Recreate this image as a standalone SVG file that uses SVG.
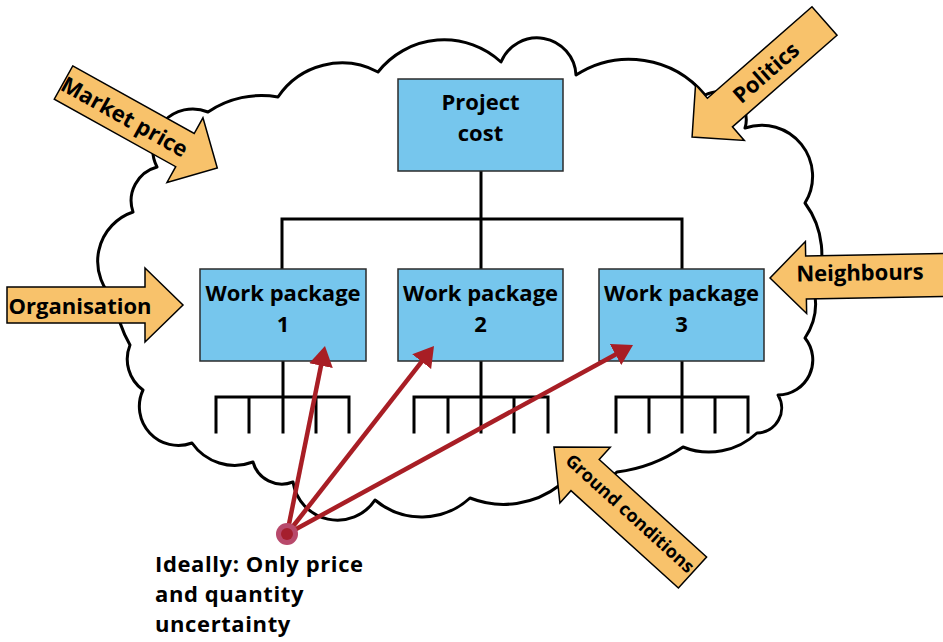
<svg xmlns="http://www.w3.org/2000/svg" width="943" height="642" viewBox="0 0 943 642">
  <style>
    .cloud { fill: #ffffff; stroke: #000000; stroke-width: 3; stroke-linejoin: round; }
    .box { fill: #76C6ED; stroke: #2b2b2b; stroke-width: 1.5; }
    .tree { fill: none; stroke: #000000; stroke-width: 3; stroke-linecap: square; }
    .label { font-family: "Open Sans", "Noto Sans", "Liberation Sans", sans-serif; font-weight: 700; font-size: 22px; fill: #000000; }
    .note { letter-spacing: 0.6px; }
    .mid { text-anchor: middle; }
    .push { fill: #F8C26B; stroke: #000000; stroke-width: 1.5; stroke-linejoin: miter; }
    .link { fill: none; stroke: #A81E25; stroke-width: 4.5; }
  </style>
  <defs>
    <marker id="redHead" markerUnits="userSpaceOnUse" markerWidth="22" markerHeight="24" refX="8" refY="12" orient="auto">
      <path d="M0,0 L20,12 L0,24 Z" fill="#A81E25"/>
    </marker>
  </defs>

  <rect width="943" height="642" fill="#ffffff"/>

  <!-- boundary cloud -->
  <path id="cloud" class="cloud" d="M157,167 A40,40 0 0 1 208,112 A95,95 0 0 1 278,97 A77,77 0 0 1 378,72 A84,84 0 0 1 501,62 A39,39 0 0 1 576,75 A98,98 0 0 1 705,95 A28,28 0 0 1 745,128 A51,51 0 0 1 805,203 A86,86 0 0 1 814,290 A62,62 0 0 1 805,338 A35,35 0 0 1 778,395 A25,25 0 0 1 757,433 A70,70 0 0 1 683,447 A150,150 0 0 1 617,472 A57,57 0 0 1 560,485 A92,92 0 0 1 470,498 A72,72 0 0 1 375,500 A45,45 0 0 1 293,482 A30,30 0 0 1 253,462 A52,52 0 0 1 192,443 A39,39 0 0 1 143,390 A38,38 0 0 1 130,345 A120,120 0 0 1 115,300 A52,52 0 0 1 133,212 A35,35 0 0 1 157,167 Z"/>

  <!-- breakdown tree lines -->
  <g id="tree-connectors" class="tree">
    <path d="M481,171 V269 M282,219 H682 M282,219 V269 M682,219 V269"/>
    <path d="M283,361 V397 M216,397 H349 M216,397 V432 M249,397 V432 M283,397 V432 M316,397 V432 M349,397 V432"/>
    <path d="M481,361 V397 M414,397 H548 M414,397 V432 M448,397 V432 M481,397 V432 M514,397 V432 M548,397 V432"/>
    <path d="M682,361 V397 M616,397 H748 M616,397 V432 M649,397 V432 M682,397 V432 M715,397 V432 M748,397 V432"/>
  </g>

  <g id="project-cost">
    <rect class="box" x="398" y="79" width="165" height="92"/>
    <text class="label mid" x="480.5" y="110">Project</text>
    <text class="label mid" x="480.5" y="141">cost</text>
  </g>
  <g id="work-package-1">
    <rect class="box" x="200" y="269" width="166" height="92"/>
    <text class="label mid" x="283" y="301">Work package</text>
    <text class="label mid" x="283" y="332">1</text>
  </g>
  <g id="work-package-2">
    <rect class="box" x="398" y="269" width="165" height="92"/>
    <text class="label mid" x="480.5" y="301">Work package</text>
    <text class="label mid" x="480.5" y="332">2</text>
  </g>
  <g id="work-package-3">
    <rect class="box" x="599" y="269" width="165" height="92"/>
    <text class="label mid" x="681.5" y="301">Work package</text>
    <text class="label mid" x="681.5" y="332">3</text>
  </g>

  <!-- external influences -->
  <g id="market-price" transform="translate(63.5,82.5) rotate(29.1)">
    <polygon class="push" points="0,-19 139,-19 139,-37 176,0 139,37 139,19 0,19"/>
    <text class="label mid" x="70" y="8">Market price</text>
  </g>
  <g id="politics" transform="translate(824.5,21) rotate(138.8)">
    <polygon class="push" points="0,-19 139,-19 139,-37 176,0 139,37 139,19 0,19"/>
    <text class="label mid" transform="translate(78,0) rotate(180)" y="8">Politics</text>
  </g>
  <g id="organisation" transform="translate(7,305)">
    <polygon class="push" points="0,-18 138,-18 138,-37 176,0 138,37 138,18 0,18"/>
    <text class="label mid" x="73" y="9">Organisation</text>
  </g>
  <g id="neighbours" transform="translate(946,275) rotate(179)">
    <polygon class="push" points="0,-21.5 140,-21.5 140,-36 176,0 140,36 140,21.5 0,21.5"/>
    <text class="label mid" transform="translate(86,0) rotate(180)" y="4">Neighbours</text>
  </g>
  <g id="ground-conditions" transform="translate(692.5,572.5) rotate(-137.8)">
    <polygon class="push" points="0,-21 145,-21 145,-37.5 187,0 145,37.5 145,21 0,21"/>
    <text class="label mid" transform="translate(86,0) rotate(180)" y="4.5" style="font-size:18px">Ground conditions</text>
  </g>

  <!-- ideal uncertainty links -->
  <g id="uncertainty-links">
    <line class="link" x1="287" y1="534" x2="322.6" y2="357.8" marker-end="url(#redHead)"/>
    <line class="link" x1="287" y1="534" x2="426.6" y2="355.4" marker-end="url(#redHead)"/>
    <line class="link" x1="287" y1="534" x2="622.5" y2="350.7" marker-end="url(#redHead)"/>
  </g>

  <g id="ideal-note">
    <circle cx="287" cy="534" r="11" fill="#B8496B"/>
    <circle cx="287" cy="534" r="6" fill="#A51F2D"/>
    <text class="label note" x="155" y="572">Ideally: Only price</text>
    <text class="label note" x="155" y="602">and quantity</text>
    <text class="label note" x="155" y="632">uncertainty</text>
  </g>
</svg>
